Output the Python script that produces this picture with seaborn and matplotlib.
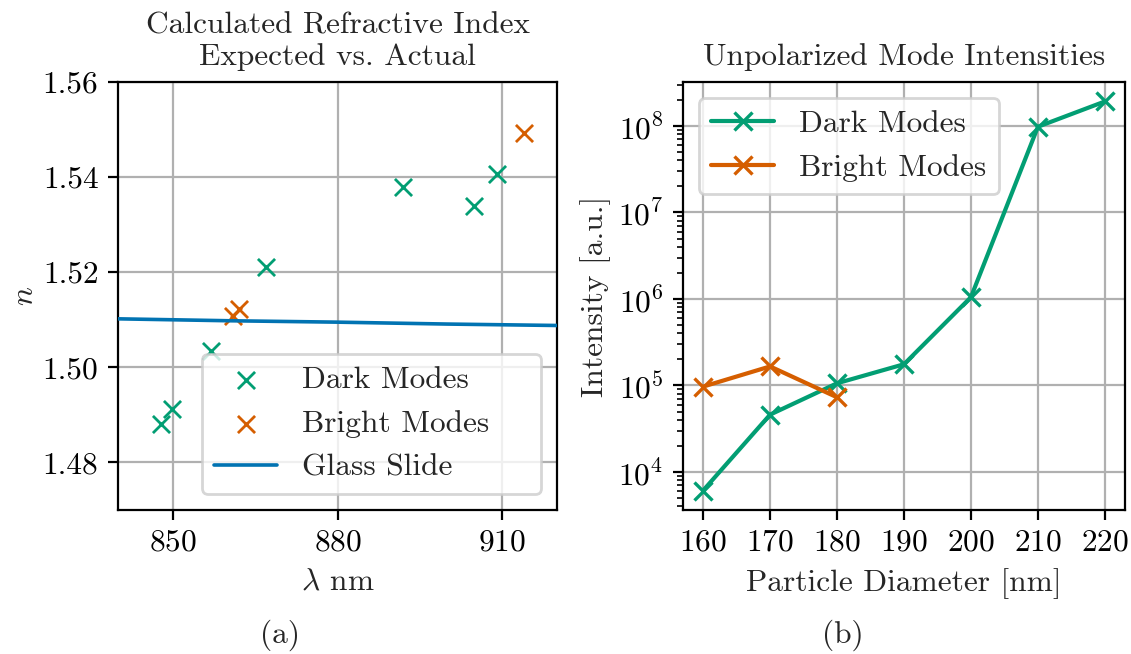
import numpy as np
import pandas as pd
import matplotlib
matplotlib.use("Agg")
import matplotlib.pyplot as plt
import seaborn as sns

# ---- refractive index data (panel a) ----
dark_wl = [847.9, 849.9, 856.9, 866.9, 891.9, 904.9, 909.0]
dark_n = [1.4880, 1.4913, 1.5035, 1.5211, 1.5380, 1.5340, 1.5407]
bright_wl = [861.0, 862.1, 913.9]
bright_n = [1.5107, 1.5123, 1.5492]
glass_wl = [840, 860, 880, 900, 920]
glass_n = [1.5102, 1.5098, 1.5095, 1.5091, 1.5088]

# ---- mode intensities (panel b) ----
diameters = [160, 170, 180, 190, 200, 210, 220]
dark_int = [6.1e3, 4.6e4, 1.06e5, 1.76e5, 1.05e6, 9.8e7, 1.92e8]
bright_diam = [160, 170, 180]
bright_int = [9.7e4, 1.66e5, 7.3e4]

FS = 11.3

sns.set_theme(style="ticks", rc={
    "axes.edgecolor": "black",
    "xtick.color": "black",
    "ytick.color": "black",
    "axes.linewidth": 0.8,
    "grid.color": "#b0b0b0",
    "grid.linewidth": 0.8,
    "xtick.major.size": 3.5,
    "ytick.major.size": 3.5,
    "xtick.major.width": 0.8,
    "ytick.major.width": 0.8,
    "ytick.minor.size": 2.0,
    "ytick.minor.width": 0.6,
})
plt.rcParams["font.family"] = ["cmr10", "DejaVu Serif"]
plt.rcParams["mathtext.fontset"] = "cm"
plt.rcParams["axes.formatter.use_mathtext"] = True
plt.rcParams["axes.unicode_minus"] = False
for key in ["font.size", "axes.titlesize", "axes.labelsize",
            "xtick.labelsize", "ytick.labelsize", "legend.fontsize"]:
    plt.rcParams[key] = FS

pal = sns.color_palette("colorblind")
c_dark, c_bright, c_glass = pal[2], pal[3], pal[0]

W, H = 1131, 654
fig = plt.figure(figsize=(W / 200, H / 200), dpi=200)
ax1 = fig.add_axes([118 / W, 1 - 510 / H, (557 - 118) / W, (510 - 82) / H])
ax2 = fig.add_axes([683 / W, 1 - 510 / H, (1125 - 683) / W, (510 - 82) / H])

# panel a
sns.scatterplot(x=dark_wl, y=dark_n, marker="x", s=38, color=c_dark,
                edgecolor=c_dark, linewidth=1.0, label="Dark Modes", ax=ax1, zorder=3)
sns.scatterplot(x=bright_wl, y=bright_n, marker="x", s=38, color=c_bright,
                edgecolor=c_bright, linewidth=1.0, label="Bright Modes", ax=ax1, zorder=3)
sns.lineplot(x=glass_wl, y=glass_n, color=c_glass, linewidth=1.3,
             label="Glass Slide", ax=ax1, zorder=3)
ax1.set_xlim(840, 920)
ax1.set_ylim(1.47, 1.56)
ax1.set_xticks([850, 880, 910])
ax1.set_yticks([1.48, 1.50, 1.52, 1.54, 1.56])
ax1.yaxis.set_major_formatter(matplotlib.ticker.FormatStrFormatter("%.2f"))
ax1.grid(True, zorder=0)
ax1.set_axisbelow(True)
ax1.set_xlabel(r"$\lambda$ nm")
ax1.set_ylabel(r"$n$", labelpad=1.5)
ax1.set_title("Calculated Refractive Index\nExpected vs. Actual")
ax1.legend(loc="lower left", mode="expand", borderaxespad=0,
           bbox_to_anchor=(0.191, 0.037, 0.7726, 0.3))

# panel b
line_kw = dict(marker="x", markersize=6.5, markeredgewidth=1.2, linewidth=1.5)
sns.lineplot(x=diameters, y=dark_int, color=c_dark, markeredgecolor=c_dark,
             label="Dark Modes", ax=ax2, **line_kw)
sns.lineplot(x=bright_diam, y=bright_int, color=c_bright, markeredgecolor=c_bright,
             label="Bright Modes", ax=ax2, **line_kw)
ax2.set_yscale("log")
ax2.set_xticks(diameters)
ax2.grid(True, which="major")
ax2.set_axisbelow(True)
ax2.set_xlabel("Particle Diameter [nm]")
ax2.set_ylabel("Intensity [a.u.]", labelpad=2.5)
ax2.set_title("Unpolarized Mode Intensities")
ax2.legend(loc="upper left")

fig.text(280 / W, 1 - 635 / H, "(a)", ha="center", va="center", fontsize=FS)
fig.text(843 / W, 1 - 635 / H, "(b)", ha="center", va="center", fontsize=FS)

fig.savefig("out.png", dpi=200)
